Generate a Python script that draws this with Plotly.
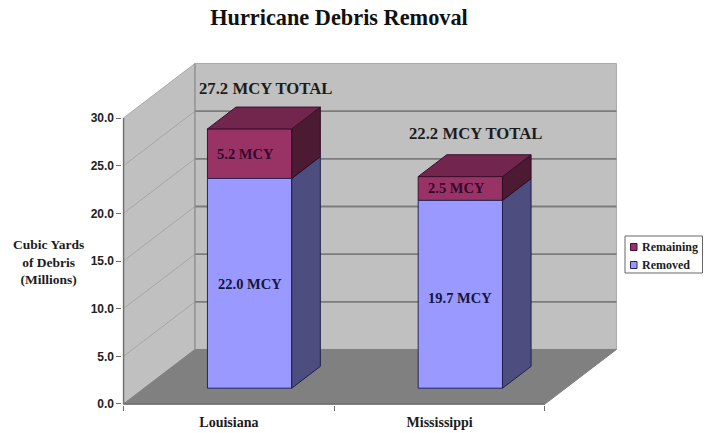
import plotly.graph_objects as go

# Debris figures, millions of cubic yards
states = ["Louisiana", "Mississippi"]
removed = [22.0, 19.7]
remaining = [5.2, 2.5]
totals = [27.2, 22.2]
value_ticks = [0, 5, 10, 15, 20, 25, 30]
legend_entries = ["Remaining", "Removed"]

# Oblique projection: one full unit of depth moves a point by this much in data units
DEPTH_X = 0.339
DEPTH_Y = 5.72
BAR_WIDTH = 0.4
BAR_NEAR = 0.29
BAR_FAR = 0.69

SERIF = "Liberation Serif"
SANS = "Liberation Sans"
WALL = "#c0c0c0"
FLOOR = "#808080"
GRID_BACK = "#7c7c7c"
GRID_SIDE = "#a6a6a6"
AXIS = "#6e6e6e"
REMOVED_FILL = "#9999ff"
REMAINING_FILL = "#993366"

# Figure size, bottom margin and the pixel scale of the value/category axes
WIDTH, HEIGHT = 709, 433
BOTTOM = 12
X_ORIGIN, X_UNIT = 123.5, 210.75
Y_ORIGIN, Y_UNIT = 404, 9.533

# Axis ranges reach just past the room so its edges stay inside the plot clip
x_range = [-0.005, 2.36]
y_range = [-0.1, 36.2]
x_domain = [(X_ORIGIN + v * X_UNIT) / WIDTH for v in x_range]
y_domain = [(HEIGHT - BOTTOM - Y_ORIGIN + v * Y_UNIT) / (HEIGHT - BOTTOM) for v in y_range]


def project(x, y, depth):
    return x + depth * DEPTH_X, y + depth * DEPTH_Y


def polygon(points, fill, line=None, width=1, axes=("x", "y")):
    xs = [p[0] for p in points] + [points[0][0]]
    ys = [p[1] for p in points] + [points[0][1]]
    return go.Scatter(
        x=xs, y=ys, mode="lines", fill="toself", fillcolor=fill,
        line=dict(color=line or fill, width=width),
        showlegend=False, hoverinfo="skip",
        xaxis=axes[0], yaxis=axes[1],
    )


def segment(points, color, width):
    return go.Scatter(
        x=[p[0] for p in points], y=[p[1] for p in points], mode="lines",
        line=dict(color=color, width=width),
        showlegend=False, hoverinfo="skip",
    )


fig = go.Figure()

# Room: side wall, back wall, floor
top = value_ticks[-1]
fig.add_trace(polygon([(0, 0), (0, top), project(0, top, 1), project(0, 0, 1)], WALL, "#a9a9a9"))
fig.add_trace(polygon([project(0, 0, 1), project(0, top, 1), project(2, top, 1), project(2, 0, 1)], WALL, "#a9a9a9"))
fig.add_trace(polygon([(0, 0), (2, 0), project(2, 0, 1), project(0, 0, 1)], FLOOR))

# Gridlines wrap from the side wall onto the back wall
for tick in value_ticks[1:-1]:
    fig.add_trace(segment([(0, tick), project(0, tick, 1)], GRID_SIDE, 1))
    fig.add_trace(segment([project(0, tick, 1), project(2, tick, 1)], GRID_BACK, 1.8))
fig.add_trace(segment([project(0, 0, 1), project(0, top, 1)], "#8f8f8f", 1.2))

# Axis lines run only over the front edge of the room
fig.add_trace(segment([(0, 0), (0, top)], AXIS, 1.5))
fig.add_trace(segment([(0, 0), (2, 0)], AXIS, 1.5))

# Front faces of the stacked columns
centers = [i + 0.5 for i in range(len(states))]
near_x, near_y = project(0, 0, BAR_NEAR)
bar_x = [c + near_x for c in centers]
fig.add_trace(go.Bar(
    x=bar_x, y=remaining, base=[near_y + v for v in removed], width=BAR_WIDTH,
    name=legend_entries[0], marker=dict(color=REMAINING_FILL, line=dict(color="#3d1030", width=1)),
    xaxis="x2", yaxis="y2", showlegend=False,
))
fig.add_trace(go.Bar(
    x=bar_x, y=removed, base=[near_y] * len(removed), width=BAR_WIDTH,
    name=legend_entries[1], marker=dict(color=REMOVED_FILL, line=dict(color="#26265c", width=1)),
    xaxis="x2", yaxis="y2", showlegend=False,
))

# Right side and top faces of the columns
OVERLAY = ("x2", "y2")
for c, low, high in zip(centers, removed, totals):
    right = c + BAR_WIDTH / 2
    left = c - BAR_WIDTH / 2
    fig.add_trace(polygon(
        [project(right, 0, BAR_NEAR), project(right, low, BAR_NEAR),
         project(right, low, BAR_FAR), project(right, 0, BAR_FAR)],
        "#4d4d80", "#20204c", 1, OVERLAY))
    fig.add_trace(polygon(
        [project(right, low, BAR_NEAR), project(right, high, BAR_NEAR),
         project(right, high, BAR_FAR), project(right, low, BAR_FAR)],
        "#4d1a33", "#2c0c20", 1, OVERLAY))
    fig.add_trace(polygon(
        [project(left, high, BAR_NEAR), project(right, high, BAR_NEAR),
         project(right, high, BAR_FAR), project(left, high, BAR_FAR)],
        "#73264d", "#3d1030", 1, OVERLAY))

annotations = []
shapes = []


def label(x, y, text, size=14.5, color="#15153c"):
    annotations.append(dict(
        x=x, y=y, xref="x", yref="y", text=f"<b>{text}</b>", showarrow=False,
        font=dict(family=SERIF, size=size, color=color),
    ))


# Segment labels sit inside each front face, totals above the columns
label(bar_x[0], 12.6, f"{removed[0]:.1f} MCY")
label(bar_x[1], 11.1, f"{removed[1]:.1f} MCY")
label(bar_x[0] - 0.02, 26.2, f"{remaining[0]:.1f} MCY", color="#30082a")
label(bar_x[1] - 0.02, 22.7, f"{remaining[1]:.1f} MCY", color="#30082a")
label(0.676, 33.1, f"{totals[0]:.1f} MCY TOTAL", 16.7, "#1c1c1c")
label(1.672, 28.4, f"{totals[1]:.1f} MCY TOTAL", 16.7, "#1c1c1c")


def paper_x(px):
    return px / WIDTH


def paper_y(px):
    return 1 - px / (HEIGHT - BOTTOM)


# Value axis caption, set horizontally beside the ticks
annotations.append(dict(
    x=paper_x(48), y=paper_y(262), xref="paper", yref="paper",
    xanchor="center", yanchor="middle",
    text="<b>Cubic Yards<br>of Debris<br>(Millions)</b>", showarrow=False,
    font=dict(family=SERIF, size=13.5, color="#1c1c1c"), align="center",
))

# Compact legend box to the right of the room
shapes.append(dict(
    type="rect", xref="paper", yref="paper",
    x0=paper_x(625), x1=paper_x(702.5), y0=paper_y(236), y1=paper_y(273),
    fillcolor="white", line=dict(color="#666666", width=1),
))
for name, fill, edge, row in zip(
    legend_entries, [REMAINING_FILL, REMOVED_FILL], ["#3d1030", "#26265c"], [247, 265]
):
    shapes.append(dict(
        type="rect", xref="paper", yref="paper",
        x0=paper_x(630.5), x1=paper_x(637), y0=paper_y(row - 3.5), y1=paper_y(row + 3.5),
        fillcolor=fill, line=dict(color=edge, width=1),
    ))
    annotations.append(dict(
        x=paper_x(641), y=paper_y(row), xref="paper", yref="paper", xanchor="left",
        xshift=-1, text=f"<b>{name}</b>", showarrow=False,
        font=dict(family=SERIF, size=12, color="#1c1c1c"),
    ))

fig.update_layout(
    width=WIDTH, height=HEIGHT, autosize=False,
    margin=dict(l=0, r=0, t=0, b=BOTTOM),
    paper_bgcolor="white", plot_bgcolor="rgba(0,0,0,0)",
    barmode="overlay", showlegend=False,
    title=dict(
        text="<b>Hurricane Debris Removal</b>", x=339 / WIDTH, xanchor="center",
        y=1 - 17 / HEIGHT, yanchor="middle",
        font=dict(family=SERIF, size=22.3, color="#111111"),
    ),
    xaxis=dict(
        domain=x_domain, range=x_range, showgrid=False, zeroline=False, showline=False,
        tickmode="array", tickvals=centers, ticktext=[f"<b>{s}</b>" for s in states],
        ticks="", ticklen=0, ticklabelstandoff=7,
        minor=dict(tickmode="array", tickvals=[0, 1, 2], ticks="outside", ticklen=5,
                   tickcolor=AXIS, tickwidth=1),
        tickfont=dict(family=SERIF, size=14, color="#1c1c1c"),
    ),
    yaxis=dict(
        domain=y_domain, range=y_range, showgrid=False, zeroline=False, showline=False,
        tickmode="array", tickvals=value_ticks, tickformat=".1f",
        ticks="outside", ticklen=5, tickcolor=AXIS, tickwidth=1,
        tickfont=dict(family=SANS, size=12, color="#222222", weight=700),
    ),
    xaxis2=dict(domain=x_domain, range=x_range, overlaying="x", visible=False),
    yaxis2=dict(domain=y_domain, range=y_range, overlaying="y", visible=False),
    annotations=annotations,
    shapes=shapes,
)

fig.write_html("out.html")
